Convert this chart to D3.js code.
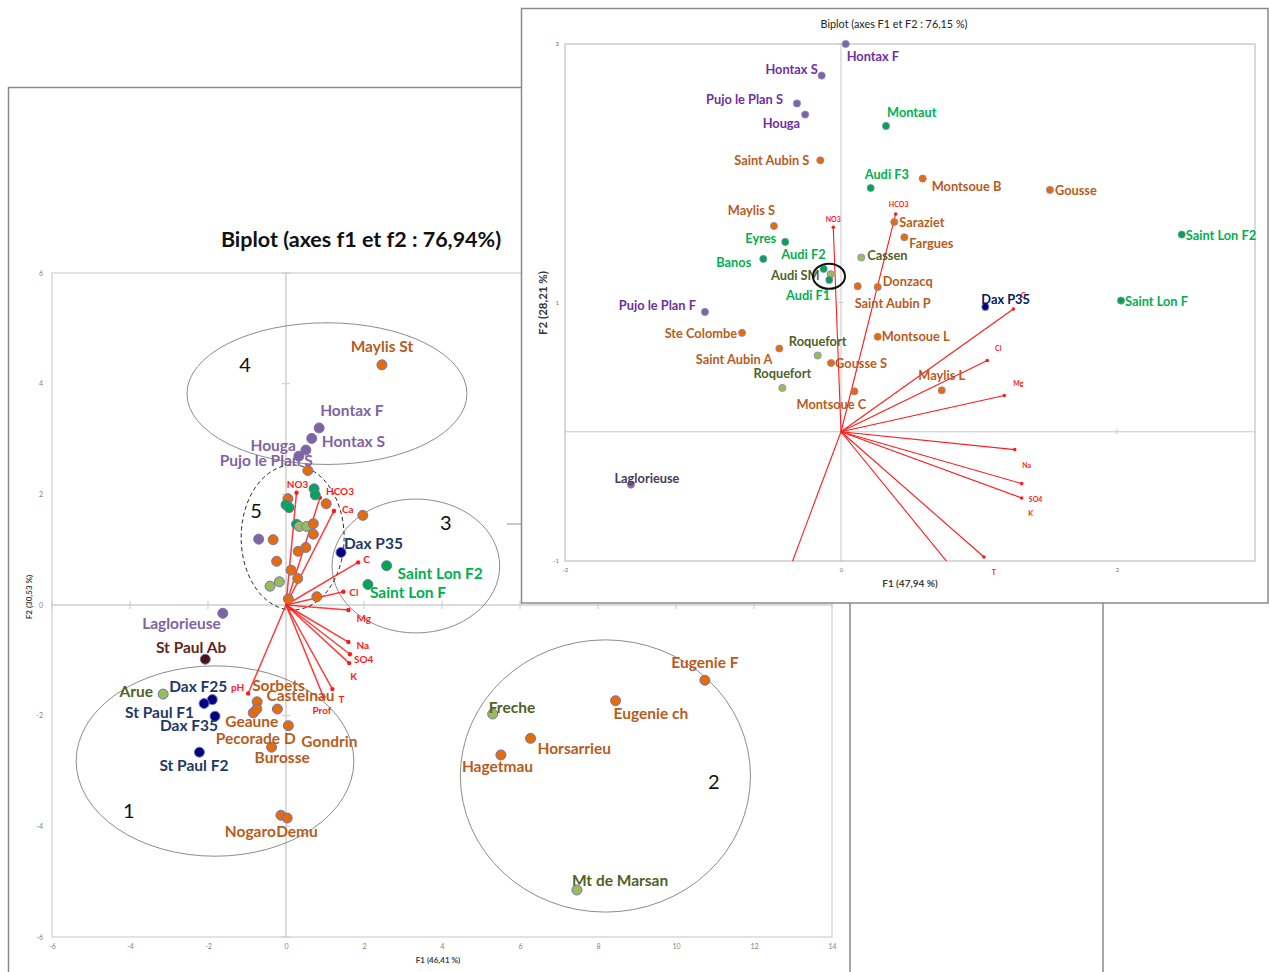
<!DOCTYPE html>
<html><head><meta charset="utf-8">
<script src="https://cdn.jsdelivr.net/npm/d3@7"></script>
<style>
body{margin:0;background:#fff}
svg{display:block}
text{font-family:Lato,"Open Sans",sans-serif}
</style>
</head><body>
<svg id="c" width="1269" height="972"></svg>
<script>
// ---------------- DATA ----------------
// Main biplot (axes f1 et f2 : 76,94%)
const leftNames = ["Maylis St","Hontax F","Hontax S","Houga","Pujo le Plan S",
  "","","","","","","","","","","","","","","","","","","","","","","","",
  "Dax P35","Saint Lon F2","Saint Lon F","Laglorieuse","St Paul Ab","Arue","Dax F25","St Paul F1","Dax F35","St Paul F2",
  "Sorbets","Castelnau","Geaune","Pecorade D","Gondrin","Burosse","Nogaro","Demu",
  "Eugenie F","Eugenie ch","Freche","Horsarrieu","Hagetmau","Mt de Marsan"];
const leftF1 = [2.46,0.85,0.66,0.51,0.33,
  0.56,0.72,0.75,0.05,0.00,0.08,1.03,1.97,0.27,0.34,0.53,0.70,0.70,-0.70,-0.33,0.51,0.31,-0.24,0.13,0.30,-0.41,-0.17,0.06,0.79,
  1.41,2.58,2.10,-1.62,-2.07,-3.15,-1.89,-2.10,-1.82,-2.22,
  -0.74,-0.22,-0.84,-0.75,0.06,-0.37,-0.13,0.03,
  10.74,8.45,5.30,6.27,5.51,7.46];
const leftF2 = [4.34,3.20,3.01,2.80,2.69,
  2.43,2.10,1.99,1.92,1.81,1.76,1.83,1.62,1.46,1.42,1.42,1.47,1.28,1.19,1.18,1.04,0.97,0.79,0.63,0.48,0.34,0.42,0.11,0.15,
  0.95,0.71,0.37,-0.15,-0.98,-1.61,-1.71,-1.78,-2.01,-2.66,
  -1.75,-1.88,-1.95,-1.88,-2.18,-2.57,-3.80,-3.85,
  -1.36,-1.73,-1.97,-2.41,-2.71,-5.15];
const leftGroup = ["o","p","p","p","p",
  "o","g","g","o","g","g","o","o","g","l","l","o","o","p","o","o","o","o","o","o","l","l","o","o",
  "n","g","g","p","m","l","n","n","n","n",
  "o","o","o","o","o","o","o","o",
  "o","o","l","o","o","l"];

const varNames = ["NO3","HCO3","Ca","C","Cl","Mg","Na","SO4","K","T","Prof","pH"];
const leftVarF1 = [0.27,0.87,1.23,1.85,1.47,1.60,1.60,1.64,1.62,1.19,0.96,-0.97];
const leftVarF2 = [2.03,1.94,1.70,0.77,0.24,-0.09,-0.67,-0.89,-1.05,-1.52,-1.66,-1.60];

const leftXTicks = [-6,-4,-2,0,2,4,6,8,10,12,14];
const leftYTicks = [-6,-4,-2,0,2,4,6];

// group annotations (data units): label, centre F1, centre F2, radius F1, radius F2
const groupLabels = ["1","2","3","4","5"];
const groupCx = [-1.82, 8.19, 3.33, 1.05, 0.17];
const groupCy = [-2.82,-3.09, 0.705,3.82, 1.22];
const groupRx = [3.56, 3.72, 2.15, 3.59, 1.32];
const groupRy = [1.72, 2.46, 1.21, 1.28, 1.31];
const groupNumF1 = [-4.03,10.97,4.10,-1.05,-0.77];
const groupNumF2 = [-3.71,-3.18,1.50,4.36,1.72];

// Inset biplot (axes F1 et F2 : 76,15 %)
const insetNames = ["Hontax F","Hontax S","Pujo le Plan S","Houga","Montaut","Saint Aubin S","Audi F3","Montsoue B","Gousse","Saint Lon F2",
  "Saraziet","Fargues","Maylis S","Eyres","Banos","Audi F2","Audi SM","Audi F1","Cassen","Saint Aubin P","Donzacq",
  "Pujo le Plan F","Dax P35","Saint Lon F","Ste Colombe","Saint Aubin A","Roquefort","Gousse S","Roquefort","Montsoue L","Maylis L","Montsoue C","Laglorieuse"];
const insetF1 = [0.034,-0.14,-0.319,-0.26,0.326,-0.15,0.215,0.592,1.514,2.469,
  0.386,0.459,-0.486,-0.404,-0.563,-0.126,-0.075,-0.085,0.147,0.121,0.266,
  -0.986,1.046,2.029,-0.717,-0.447,-0.169,-0.072,-0.425,0.266,0.73,0.097,-1.522];
const insetF2 = [3.00,2.756,2.54,2.454,2.366,2.10,1.886,1.959,1.871,1.526,
  1.623,1.505,1.592,1.469,1.337,1.26,1.219,1.175,1.348,1.126,1.12,
  0.927,0.966,1.015,0.765,0.644,0.59,0.532,0.339,0.735,0.321,0.313,-0.409];
const insetGroup = ["p","p","p","p","g","o","g","o","o","g",
  "o","o","o","g","g","g","l","g","l","o","o",
  "p","n","g","o","o","l","o","l","o","o","o","d"];
const insetVarF1 = [-0.056,0.396,null,1.249,1.060,1.183,1.259,1.309,1.309,1.036,0.84,-0.40];
const insetVarF2 = [1.582,1.685,null,0.950,0.551,0.280,-0.138,-0.401,-0.512,-0.969,-1.10,-1.14];
const insetXTicks = [-2,0,2];
const insetYTicks = [-1,1,3];
// highlighted ring around Audi SM
const ringF1 = -0.087, ringF2 = 1.203, ringRx = 0.116, ringRy = 0.097;

// ---------------- LAYOUT / STYLE ----------------
const leftLabelPos = [[0,-19,"middle"],[1,-18,"start"],[10,3,"start"],[-10,-5,"end"],[14,4,"end"],
  null,null,null,null,null,null,null,null,null,null,null,null,null,null,null,null,null,null,null,null,null,null,null,null,
  [3,-9,"start"],[11,7,"start"],[2,7,"start"],[-2,10,"end"],[21,-12,"end"],[-10,-3,"end"],[15,-14,"end"],[-10,9,"end"],[3,9,"end"],[-40,13,"start"],
  [-5,-17,"start"],[-11,-14,"start"],[-28,8,"start"],[-41,29,"start"],[13,15,"start"],[-17,10,"start"],[-5,16,"end"],[-11,13,"start"],
  [0,-18,"middle"],[-2,12,"start"],[-4,-7,"start"],[7,10,"start"],[-39,11,"start"],[-5,-10,"start"]];
const leftVarLabelPos = [[1,-9,"middle"],[6,-7,"start"],[8,-2,"start"],[5,-3,"start"],[6,0,"start"],[8,8,"start"],
  [8,3,"start"],[4,5,"start"],[1,13,"start"],[6,10,"start"],[-11,13,"start"],[-4,-7,"end"]];
const insetLabelPos = [[1,12,"start"],[-4,-7,"end"],[-14,-4,"end"],[-5,8,"end"],[1,-14,"start"],[-11,0,"end"],[-6,-14,"start"],[9,7,"start"],[5,0,"start"],[4,0,"start"],
  [5,0,"start"],[5,6,"start"],[1,-16,"end"],[-9,-4,"end"],[-12,3,"end"],[2,-15,"end"],[-11,1,"end"],[1,15,"end"],[6,-3,"start"],[-3,17,"start"],[5,-6,"start"],
  [-9,-7,"end"],[-4,-8,"start"],[4,0,"start"],[-5,0,"end"],[-7,10,"end"],[0,-14,"middle"],[4,0,"start"],[0,-15,"middle"],[4,-1,"start"],[0,-15,"middle"],[-23,13,"middle"],[16,-7,"middle"]];
const insetVarLabelPos = [[0,-8,"middle"],[3,-10,"middle"],null,[10,-14,"middle"],[11,-13,"middle"],[14,-13,"middle"],
  [12,15,"middle"],[14,15,"middle"],[9,15,"middle"],[10,15,"middle"],null,null];

const dotFill = {o:"#e46c0a",p:"#8064a2",d:"#8064a2",g:"#00a650",n:"#000080",m:"#4a1212",l:"#9bbb59"};
const leftText = {o:"#b85c1e",p:"#8064a2",g:"#00b050",n:"#1f3864",m:"#632523",l:"#4f6228"};
const insetText = {o:"#b85c1e",p:"#7030a0",d:"#4b3b5e",g:"#00b050",n:"#002060",l:"#4f6228"};
const RED = "#ff1a1a";

// ---------------- DRAW ----------------
const svg = d3.select("#c");
svg.append("rect").attr("width",1269).attr("height",972).attr("fill","#fff");

// background frames of the pasted panels
svg.append("rect").attr("x",8.5).attr("y",87.5).attr("width",841.5).attr("height",950)
  .attr("fill","none").attr("stroke","#8a8a8a").attr("stroke-width",1.5);
svg.append("line").attr("x1",1103).attr("x2",1103).attr("y1",400).attr("y2",972)
  .attr("stroke","#8a8a8a").attr("stroke-width",1.5);
svg.append("line").attr("x1",507).attr("x2",522).attr("y1",524).attr("y2",524)
  .attr("stroke","#c8c8c8").attr("stroke-width",2);

// ===== Left (main) biplot =====
const xL = d3.scaleLinear().domain([-6,14]).range([52,832]);
const yL = d3.scaleLinear().domain([-6,6]).range([937,273]);
const gL = svg.append("g");

gL.append("rect").attr("x",xL(-6)).attr("y",yL(6)).attr("width",xL(14)-xL(-6)).attr("height",yL(-6)-yL(6))
  .attr("fill","none").attr("stroke","#d9d9d9").attr("stroke-width",1.5);
gL.append("line").attr("x1",xL(0)).attr("x2",xL(0)).attr("y1",yL(6)).attr("y2",yL(-6)).attr("stroke","#cfcfcf").attr("stroke-width",1.5);
gL.append("line").attr("x1",xL(-6)).attr("x2",xL(14)).attr("y1",yL(0)).attr("y2",yL(0)).attr("stroke","#cfcfcf").attr("stroke-width",1.5);
gL.selectAll(".xt").data(leftXTicks).enter().append("line")
  .attr("x1",d=>xL(d)).attr("x2",d=>xL(d)).attr("y1",yL(0)-4).attr("y2",yL(0)+4).attr("stroke","#cfcfcf").attr("stroke-width",1.2);
gL.selectAll(".yt").data(leftYTicks).enter().append("line")
  .attr("y1",d=>yL(d)).attr("y2",d=>yL(d)).attr("x1",xL(0)-4).attr("x2",xL(0)+4).attr("stroke","#cfcfcf").attr("stroke-width",1.2);

const axXL = gL.append("g").attr("transform",`translate(0,${yL(-6)+7})`)
  .call(d3.axisBottom(xL).tickValues(leftXTicks).tickSize(0).tickPadding(0).tickFormat(d=>String(d)));
const axYL = gL.append("g").attr("transform",`translate(${xL(-6)-9},0)`)
  .call(d3.axisLeft(yL).tickValues(leftYTicks).tickSize(0).tickPadding(0).tickFormat(d=>String(d)));
[axXL,axYL].forEach(a=>{a.select(".domain").remove();
  a.selectAll("text").attr("font-family","Lato,sans-serif").attr("font-size",7).attr("fill","#7f7f7f");});

gL.append("text").attr("x",438).attr("y",963).attr("text-anchor","middle").attr("font-size",8).attr("font-weight","bold")
  .attr("fill","#404040").text("F1 (46,41 %)");
gL.append("text").attr("transform","translate(32,597) rotate(-90)").attr("text-anchor","middle").attr("font-size",8)
  .attr("font-weight","bold").attr("fill","#404040").text("F2 (30,53 %)");
gL.append("text").attr("x",361).attr("y",247).attr("text-anchor","middle").attr("font-size",21.5).attr("font-weight","bold")
  .attr("fill","#111").text("Biplot (axes f1 et f2 : 76,94%)");

// group ellipses
groupLabels.forEach((lab,i)=>{
  gL.append("ellipse").attr("cx",xL(groupCx[i])).attr("cy",yL(groupCy[i]))
    .attr("rx",xL(groupRx[i])-xL(0)).attr("ry",yL(0)-yL(groupRy[i]))
    .attr("fill","none").attr("stroke",lab==="5"?"#222":"#8c8c8c").attr("stroke-width",1)
    .attr("stroke-dasharray",lab==="5"?"4,3":null);
  gL.append("text").attr("x",xL(groupNumF1[i])).attr("y",yL(groupNumF2[i])).attr("dominant-baseline","central")
    .attr("text-anchor","middle").attr("font-size",20).attr("fill","#111").text(lab);
});

// variable vectors
varNames.forEach((v,i)=>{
  const x=xL(leftVarF1[i]), y=yL(leftVarF2[i]);
  gL.append("line").attr("x1",xL(0)).attr("y1",yL(0)).attr("x2",x).attr("y2",y).attr("stroke",RED).attr("stroke-width",1.5).attr("opacity",0.85);
  gL.append("circle").attr("cx",x).attr("cy",y).attr("r",2.2).attr("fill",RED);
  const p=leftVarLabelPos[i];
  gL.append("text").attr("x",x+p[0]).attr("y",y+p[1]).attr("text-anchor",p[2]).attr("dominant-baseline","central")
    .attr("font-size",10).attr("font-weight","bold").attr("fill",RED).text(v);
});

// points
const leftIdx = d3.range(leftNames.length);
gL.selectAll(".pt").data(leftIdx).enter().append("circle")
  .attr("cx",i=>xL(leftF1[i])).attr("cy",i=>yL(leftF2[i])).attr("r",5)
  .attr("fill",i=>dotFill[leftGroup[i]]).attr("stroke","#7474b4").attr("stroke-width",1);
gL.selectAll(".lb").data(leftIdx.filter(i=>leftNames[i])).enter().append("text")
  .attr("x",i=>xL(leftF1[i])+leftLabelPos[i][0]).attr("y",i=>yL(leftF2[i])+leftLabelPos[i][1])
  .attr("text-anchor",i=>leftLabelPos[i][2]).attr("dominant-baseline","central")
  .attr("font-size",15.5).attr("font-weight","bold").attr("fill",i=>leftText[leftGroup[i]]).text(i=>leftNames[i]);

// ===== Inset biplot =====
const gI = svg.append("g");
gI.append("rect").attr("x",521.5).attr("y",8.5).attr("width",746.5).attr("height",594.5)
  .attr("fill","#fff").attr("stroke","#8a8a8a").attr("stroke-width",1.5);
const xI = d3.scaleLinear().domain([-2,3]).range([565,1255]);
const yI = d3.scaleLinear().domain([-1,3]).range([561,44]);

gI.append("rect").attr("x",xI(-2)).attr("y",yI(3)).attr("width",xI(3)-xI(-2)).attr("height",yI(-1)-yI(3))
  .attr("fill","none").attr("stroke","#d9d9d9").attr("stroke-width",2);
gI.append("line").attr("x1",xI(0)).attr("x2",xI(0)).attr("y1",yI(3)).attr("y2",yI(-1)).attr("stroke","#c8c8c8").attr("stroke-width",1);
gI.append("line").attr("x1",xI(-2)).attr("x2",xI(3)).attr("y1",yI(0)).attr("y2",yI(0)).attr("stroke","#c8c8c8").attr("stroke-width",1);
gI.selectAll(".xt").data(insetXTicks).enter().append("line")
  .attr("x1",d=>xI(d)).attr("x2",d=>xI(d)).attr("y1",yI(0)-2.5).attr("y2",yI(0)+2.5).attr("stroke","#c8c8c8");
gI.selectAll(".yt").data(insetYTicks).enter().append("line")
  .attr("y1",d=>yI(d)).attr("y2",d=>yI(d)).attr("x1",xI(0)-2.5).attr("x2",xI(0)+2.5).attr("stroke","#c8c8c8");
const axXI = gI.append("g").attr("transform",`translate(0,${yI(-1)+7})`)
  .call(d3.axisBottom(xI).tickValues(insetXTicks).tickSize(0).tickPadding(0).tickFormat(d=>String(d)));
const axYI = gI.append("g").attr("transform",`translate(${xI(-2)-6},0)`)
  .call(d3.axisLeft(yI).tickValues(insetYTicks).tickSize(0).tickPadding(0).tickFormat(d=>String(d)));
[axXI,axYI].forEach(a=>{a.select(".domain").remove();
  a.selectAll("text").attr("font-family","Lato,sans-serif").attr("font-size",6).attr("fill","#6f6f6f");});
gI.append("text").attr("x",910).attr("y",587).attr("text-anchor","middle").attr("font-size",10).attr("font-weight","bold")
  .attr("fill","#404040").text("F1 (47,94 %)");
gI.append("text").attr("transform","translate(547,303) rotate(-90)").attr("text-anchor","middle").attr("font-size",11.5)
  .attr("font-weight","bold").attr("fill","#333").text("F2 (28,21 %)");
gI.append("text").attr("x",894).attr("y",28).attr("text-anchor","middle").attr("font-size",10.8)
  .attr("fill","#222").text("Biplot (axes F1 et F2 : 76,15 %)");

svg.append("clipPath").attr("id","clipI").append("rect")
  .attr("x",xI(-2)).attr("y",yI(3)).attr("width",xI(3)-xI(-2)).attr("height",yI(-1)-yI(3));
const gV = gI.append("g").attr("clip-path","url(#clipI)");
varNames.forEach((v,i)=>{
  if(insetVarF1[i]===null) return;
  const x=xI(insetVarF1[i]), y=yI(insetVarF2[i]);
  gV.append("line").attr("x1",xI(0)).attr("y1",yI(0)).attr("x2",x).attr("y2",y).attr("stroke",RED).attr("stroke-width",1.1);
  gV.append("circle").attr("cx",x).attr("cy",y).attr("r",1.8).attr("fill",RED);
  const p=insetVarLabelPos[i];
  if(p) gI.append("text").attr("x",x+p[0]).attr("y",y+p[1]).attr("text-anchor",p[2]).attr("dominant-baseline","central")
    .attr("font-size",7).attr("font-weight","bold").attr("fill",RED).text(v);
});

const insetIdx = d3.range(insetNames.length);
gI.selectAll(".pt").data(insetIdx).enter().append("circle")
  .attr("cx",i=>xI(insetF1[i])).attr("cy",i=>yI(insetF2[i])).attr("r",3.6)
  .attr("fill",i=>dotFill[insetGroup[i]]).attr("stroke","#8a8ac0").attr("stroke-width",0.8);
gI.selectAll(".lb").data(insetIdx).enter().append("text")
  .attr("x",i=>xI(insetF1[i])+insetLabelPos[i][0]).attr("y",i=>yI(insetF2[i])+insetLabelPos[i][1])
  .attr("text-anchor",i=>insetLabelPos[i][2]).attr("dominant-baseline","central")
  .attr("font-size",12.8).attr("font-weight","bold").attr("fill",i=>insetText[insetGroup[i]]).text(i=>insetNames[i]);

gI.append("ellipse").attr("cx",xI(ringF1)).attr("cy",yI(ringF2))
  .attr("rx",xI(ringRx)-xI(0)).attr("ry",yI(0)-yI(ringRy))
  .attr("fill","none").attr("stroke","#111").attr("stroke-width",2);
</script>
</body></html>
